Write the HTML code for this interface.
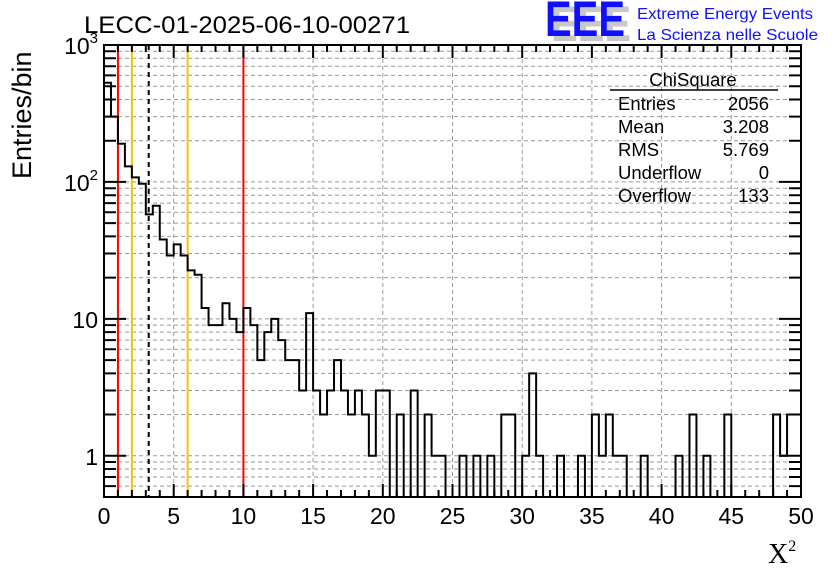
<!DOCTYPE html>
<html><head><meta charset="utf-8"><style>
html,body{margin:0;padding:0;background:#fff;}
svg{display:block;font-family:"Liberation Sans",sans-serif;}
</style></head><body>
<svg id="chart" width="836" height="572" viewBox="0 0 836 572" xmlns="http://www.w3.org/2000/svg">
<rect width="836" height="572" fill="#fff"/>
<g id="grid"></g>
<g id="marks"></g>
<path id="hist" fill="none" stroke="#000" stroke-width="2"/>
<g id="ticks"></g>
<rect x="104" y="45" width="697" height="452" fill="none" stroke="#000" stroke-width="2"/>
<text x="84" y="33" font-size="24" textLength="326" lengthAdjust="spacingAndGlyphs">LECC-01-2025-06-10-00271</text>
<g>
<text x="551" y="41" font-size="50" font-weight="bold" fill="#c8c8c8" textLength="80" lengthAdjust="spacingAndGlyphs">EEE</text>
<text x="545" y="36" font-size="50" font-weight="bold" fill="#1010ff" textLength="80" lengthAdjust="spacingAndGlyphs">EEE</text>
<text x="637" y="19" font-size="16" fill="#1010ff" textLength="176" lengthAdjust="spacingAndGlyphs">Extreme Energy Events</text>
<text x="637" y="40" font-size="16" fill="#1010ff" textLength="181" lengthAdjust="spacingAndGlyphs">La Scienza nelle Scuole</text>
</g>
<g font-size="18.5">
<text x="693" y="86" text-anchor="middle">ChiSquare</text>
<line x1="610" y1="90" x2="778" y2="90" stroke="#000" stroke-width="1.5"/>
<text x="618" y="110">Entries</text><text x="769" y="110" text-anchor="end">2056</text>
<text x="618" y="133">Mean</text><text x="769" y="133" text-anchor="end">3.208</text>
<text x="618" y="156">RMS</text><text x="769" y="156" text-anchor="end">5.769</text>
<text x="618" y="179">Underflow</text><text x="769" y="179" text-anchor="end">0</text>
<text x="618" y="202">Overflow</text><text x="769" y="202" text-anchor="end">133</text>
</g>
<g id="xlabels" font-size="23"></g>
<g id="ylabels" font-size="23"></g>
<text transform="translate(31,179) rotate(-90)" font-size="27">Entries/bin</text>
<text x="768" y="563" font-size="28" font-family="Liberation Serif,serif">X<tspan font-size="16" dy="-12">2</tspan></text>
</svg>
<script>
const binWidth = 0.5;
const counts = [530,300,190,130,108,97,58,67,38,29,35,29,22.6,21,12,9,9,13,10,8,12,9,5,8,10,7,5,5,3,11,3,
2,3,5,3,2,3,2,1,3,3,
0,2,0,3,0,2,1,1,0,0,
1,0,1,0,1,0,2,2,0,1,
4,1,0,0,1,0,0,1,0,2,
1,2,1,1,0,0,1,0,0,0,
0,1,0,2,0,1,0,0,2,0,
0,0,0,0,0,2,1,2,2];
const xTicks = [0,5,10,15,20,25,30,35,40,45,50];
const yTickVals = [1,10,100,1000];
const markerVals = [1,2,3.208,6,10];
const markerColors = ['#f00','#f5c400','#000','#f5c400','#f00'];
const NS='http://www.w3.org/2000/svg';
const X0=104,X1=801,Y0=497,Y1=45,XMIN=0,XMAX=50,YMIN=0.5,YMAX=1000;
function xs(v){return X0+(v-XMIN)/(XMAX-XMIN)*(X1-X0);}
function ys(v){if(v<=YMIN)return Y0;return Y0-(Math.log10(v)-Math.log10(YMIN))/(Math.log10(YMAX)-Math.log10(YMIN))*(Y0-Y1);}
function mk(tag,attrs,parent){const e=document.createElementNS(NS,tag);for(const k in attrs)e.setAttribute(k,attrs[k]);parent.appendChild(e);return e;}
const grid=document.getElementById('grid'),ticks=document.getElementById('ticks');
for(let d=0.1;d<=100;d*=10){for(let m=1;m<10;m++){const v=Math.round(d*m*100)/100;if(v<YMIN||v>=YMAX)continue;const y=ys(v);
const g=mk('line',{x1:X0,x2:X1,y1:y,y2:y,stroke:'#999','stroke-dasharray':'4,3','stroke-width':1},grid);


const L=m===1?22:12;
const t1=mk('path',{d:`M${X0},${y}h${L}M${X1},${y}h${-L}`,stroke:'#000','stroke-width':2},ticks);

}}
for(const v of xTicks){const x=xs(v);
if(v>XMIN&&v<XMAX){const g=mk('line',{x1:x,x2:x,y1:Y1,y2:Y0,stroke:'#999','stroke-dasharray':'4,3','stroke-width':1},grid);

}
const t=mk('text',{x:x,y:524,'text-anchor':'middle'},document.getElementById('xlabels'));t.textContent=v;

}
for(let v=XMIN;v<=XMAX;v++){const x=xs(v);const L=v%5===0?13:7;
const t=mk('path',{d:`M${x},${Y0}v${-L}M${x},${Y1}v${L}`,stroke:'#000','stroke-width':2},ticks);

}
const yl=document.getElementById('ylabels');
for(const v of yTickVals){const y=ys(v);
const t=mk('text',{x:98,y:y+9,'text-anchor':'end'},yl);


if(v>=100){t.textContent='10';const s=mk('tspan',{dy:-11,'font-size':15},t);s.textContent=Math.round(Math.log10(v));}else t.textContent=v;}
const marks=document.getElementById('marks');
markerVals.forEach((v,i)=>{const x=xs(v);
const l=mk('line',{x1:x,x2:x,y1:Y1,y2:Y0,stroke:markerColors[i],'stroke-width':2},marks);
if(markerColors[i]==='#000')l.setAttribute('stroke-dasharray','5,4');

});
let d=`M${xs(0)},${Y0}`;
counts.forEach((c,i)=>{const y=ys(c);d+=`V${y}H${xs((i+1)*binWidth)}`;});
d+=`V${Y0}`;
document.getElementById('hist').setAttribute('d',d);
</script>
</body></html>
